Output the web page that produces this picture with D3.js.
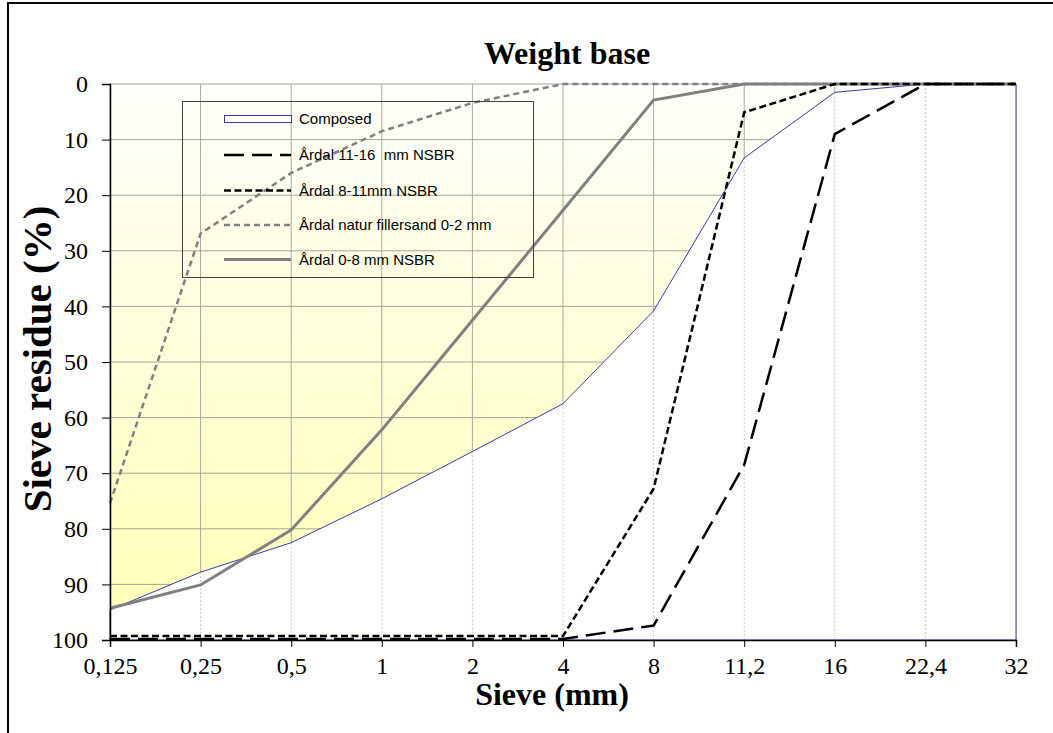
<!DOCTYPE html>
<html>
<head>
<meta charset="utf-8">
<script src="https://cdn.jsdelivr.net/npm/d3@7"></script>
<style>
  html, body { margin: 0; padding: 0; background: #fff; }
  svg { display: block; }
</style>
</head>
<body>
<svg id="chart" width="1053" height="733"></svg>
<script>
// Sieve sizes (mm) on a categorical axis
const sieves = ["0,125", "0,25", "0,5", "1", "2", "4", "8", "11,2", "16", "22,4", "32"];
const yTicks = [0, 10, 20, 30, 40, 50, 60, 70, 80, 90, 100];

// Sieve residue (%) per material
const composed   = [94.6, 87.8, 82.5, 74.6, 66.1, 57.5, 40.8, 13.3, 1.5, 0, 0];
const ardal1116  = [99.8, 99.8, 99.8, 99.8, 99.8, 99.8, 97.4, 68.5, 9.0, 0, 0];
const ardal811   = [99.3, 99.3, 99.3, 99.3, 99.3, 99.3, 72.8, 5.1, 0, 0, 0];
const fillersand = [75.4, 26.9, 16.0, 8.5, 3.4, 0, 0, 0, 0, 0, 0];
const ardal08    = [94.3, 90.1, 80.2, 62.2, 42.5, 22.7, 2.9, 0, 0, 0, 0];

const legendNames = ["Composed", "Årdal 11-16  mm NSBR", "Årdal 8-11mm NSBR",
                     "Årdal natur fillersand 0-2 mm", "Årdal 0-8 mm NSBR"];

const serif = "'Liberation Serif', 'Times New Roman', Times, serif";
const sans = "'Liberation Sans', Arial, Helvetica, sans-serif";

const svg = d3.select("#chart");
const plot = { left: 110, right: 1016, top: 84, bottom: 640 };

const x = d3.scalePoint().domain(sieves).range([plot.left, plot.right]);
const y = d3.scaleLinear().domain([0, 100]).range([plot.top, plot.bottom]);

// outer frame
svg.append("rect").attr("x", 8).attr("y", 3).attr("width", 1100).attr("height", 800)
  .attr("fill", "#fff").attr("stroke", "#000").attr("stroke-width", 2);

// plot background gradient
const defs = svg.append("defs");
const grad = defs.append("linearGradient").attr("id", "bg")
  .attr("x1", 0).attr("y1", 0).attr("x2", 0).attr("y2", 1);
grad.append("stop").attr("offset", "0%").attr("stop-color", "#fffffb");
grad.append("stop").attr("offset", "100%").attr("stop-color", "#ffffb6");

svg.append("rect")
  .attr("x", plot.left).attr("y", plot.top)
  .attr("width", plot.right - plot.left).attr("height", plot.bottom - plot.top)
  .attr("fill", "url(#bg)");

// gridlines
const grid = svg.append("g");
grid.selectAll("line.h").data(yTicks).join("line")
  .attr("x1", plot.left).attr("x2", plot.right)
  .attr("y1", d => y(d)).attr("y2", d => y(d))
  .attr("stroke", "#a4a49a").attr("stroke-width", 1);
grid.selectAll("line.v").data(sieves).join("line")
  .attr("x1", d => x(d)).attr("x2", d => x(d))
  .attr("y1", plot.top).attr("y2", plot.bottom)
  .attr("stroke", "#a8a8a0").attr("stroke-width", 1);

// composed: area from the category axis up to the curve
const idx = d3.range(sieves.length);
const area = d3.area()
  .x(i => x(sieves[i]))
  .y0(y(100))
  .y1(i => y(composed[i]));
svg.append("path").datum(idx)
  .attr("d", area)
  .attr("fill", "#fff");

// light dotted gridlines inside the composed area
svg.append("g").selectAll("line").data(idx.slice(1, -1)).join("line")
  .attr("x1", i => x(sieves[i])).attr("x2", i => x(sieves[i]))
  .attr("y1", i => y(composed[i])).attr("y2", y(100))
  .attr("stroke", "#c4c4c4").attr("stroke-width", 1)
  .attr("stroke-dasharray", "2,2");

// composed outline
const outline = d3.line().x(p => p[0]).y(p => p[1]);
const outlinePts = [[x(sieves[0]), y(100)]]
  .concat(idx.map(i => [x(sieves[i]), y(composed[i])]))
  .concat([[x(sieves[sieves.length - 1]), y(100)]]);
svg.append("path").attr("d", outline(outlinePts) + "Z")
  .attr("fill", "none").attr("stroke", "#3a3aaa").attr("stroke-width", 1);

// series lines
const series = [
  { values: ardal08,    stroke: "#808080", width: 3,   dash: null },
  { values: fillersand, stroke: "#808080", width: 2.5, dash: "6,4" },
  { values: ardal811,   stroke: "#000",    width: 2.5, dash: "7,3.5" },
  { values: ardal1116,  stroke: "#000",    width: 2.5, dash: "20,8" }
];
const lineGen = d3.line().x((d, i) => x(sieves[i])).y(d => y(d));
svg.append("g").selectAll("path").data(series).join("path")
  .attr("d", s => lineGen(s.values))
  .attr("fill", "none")
  .attr("stroke", s => s.stroke)
  .attr("stroke-width", s => s.width)
  .attr("stroke-dasharray", s => s.dash)
  .attr("stroke-linejoin", "miter");

// axes
const yAxis = svg.append("g").attr("transform", `translate(${plot.left},0)`)
  .call(d3.axisLeft(y).tickValues(yTicks).tickSize(8).tickPadding(14));
const xAxis = svg.append("g").attr("transform", `translate(0,${plot.bottom})`)
  .call(d3.axisBottom(x).tickSize(7).tickPadding(10));
[yAxis, xAxis].forEach(a => {
  a.select(".domain").attr("stroke", "#000").attr("stroke-width", 1.5);
  a.selectAll(".tick line").attr("stroke", "#000");
  a.selectAll(".tick text").attr("font-family", serif).attr("font-size", 24).attr("fill", "#000");
});

// legend
const legend = svg.append("g");
legend.append("rect").attr("x", 182.5).attr("y", 101.5).attr("width", 351).attr("height", 176)
  .attr("fill", "none").attr("stroke", "#404040").attr("stroke-width", 1);
const rowsY = [119, 155, 190.5, 225, 259.5];
const symX0 = 224, symX1 = 291;
legend.append("rect").attr("x", symX0 + 0.5).attr("y", rowsY[0] - 3.5)
  .attr("width", symX1 - symX0).attr("height", 7)
  .attr("fill", "#fff").attr("stroke", "#3a3aaa").attr("stroke-width", 1);
const legendLines = [series[3], series[2], series[1], series[0]];
legend.selectAll("line").data(legendLines).join("line")
  .attr("x1", symX0).attr("x2", symX1)
  .attr("y1", (d, i) => rowsY[i + 1]).attr("y2", (d, i) => rowsY[i + 1])
  .attr("stroke", s => s.stroke).attr("stroke-width", s => s.width)
  .attr("stroke-dasharray", s => s.dash);
legend.selectAll("text").data(legendNames).join("text")
  .attr("x", 299).attr("y", (d, i) => rowsY[i]).attr("dy", "0.36em")
  .attr("font-family", sans).attr("font-size", 15).attr("fill", "#000")
  .style("white-space", "pre")
  .text(d => d);

// titles
svg.append("text").attr("x", 567).attr("y", 64).attr("text-anchor", "middle")
  .attr("font-family", serif).attr("font-weight", "bold").attr("font-size", 32)
  .text("Weight base");
svg.append("text").attr("x", 552).attr("y", 705).attr("text-anchor", "middle")
  .attr("font-family", serif).attr("font-weight", "bold").attr("font-size", 32)
  .text("Sieve (mm)");
svg.append("text").attr("transform", "translate(51,359) rotate(-90)").attr("text-anchor", "middle")
  .attr("font-family", serif).attr("font-weight", "bold").attr("font-size", 41)
  .text("Sieve residue (%)");
</script>
</body>
</html>
